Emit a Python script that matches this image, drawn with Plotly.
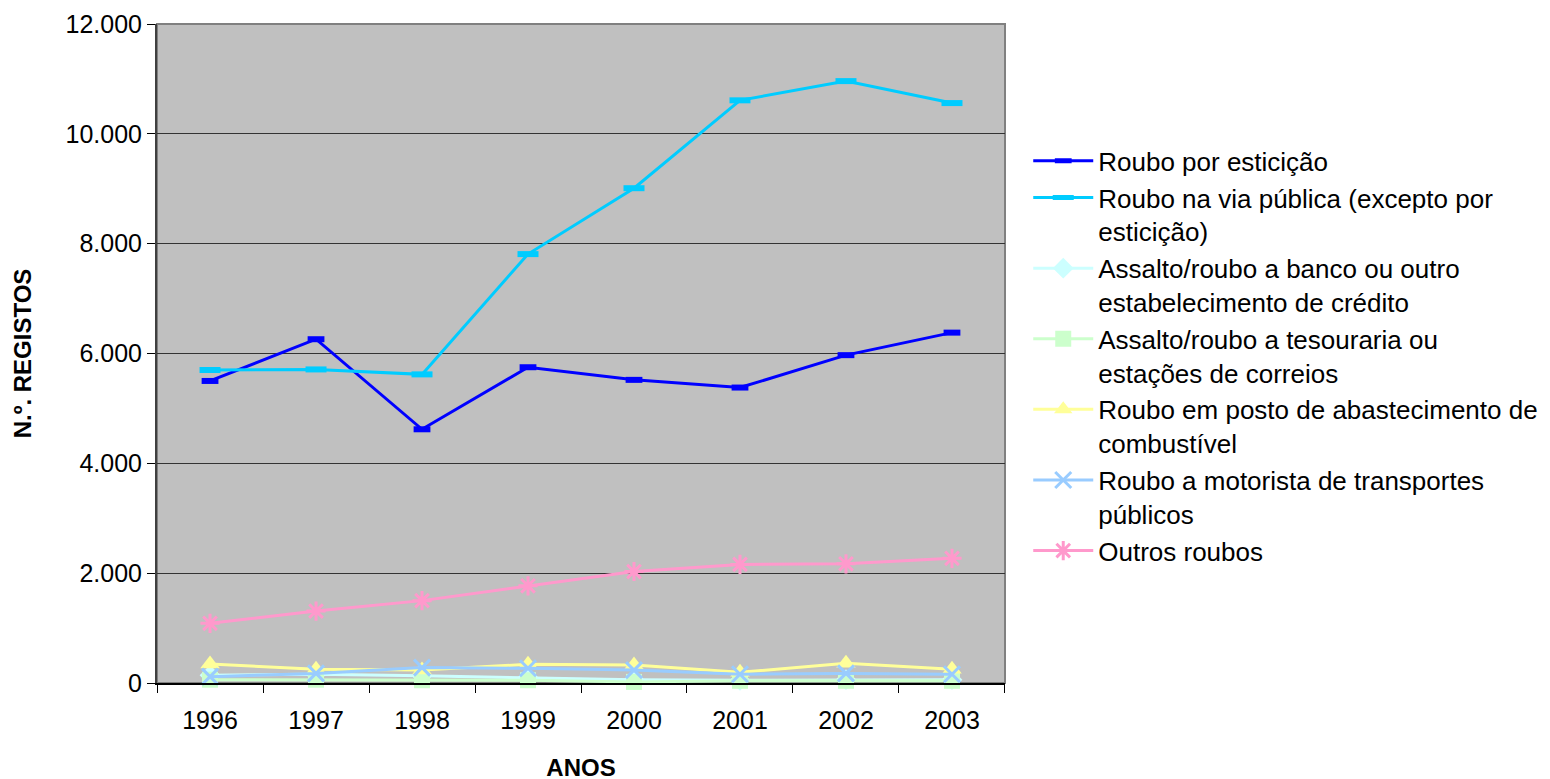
import plotly.graph_objects as go

years = ["1996", "1997", "1998", "1999", "2000", "2001", "2002", "2003"]

esticao = [5500, 6260, 4620, 5750, 5520, 5380, 5970, 6380]
via_publica = [5700, 5710, 5620, 7810, 9010, 10610, 10960, 10560]
banco = [140, 160, 130, 100, 60, 50, 60, 60]
tesouraria = [60, 60, 50, 50, 20, 40, 40, 40]
combustivel = [345, 250, 235, 340, 330, 195, 360, 250]
motorista = [115, 175, 280, 268, 235, 160, 175, 160]
outros = [1087, 1310, 1500, 1770, 2030, 2160, 2170, 2270]

names = [
    "Roubo por esticição",
    "Roubo na via pública (excepto por<br>esticição)",
    "Assalto/roubo a banco ou outro<br>estabelecimento de crédito",
    "Assalto/roubo a tesouraria ou<br>estações de correios",
    "Roubo em posto de abastecimento de<br>combustível",
    "Roubo a motorista de transportes<br>públicos",
    "Outros roubos",
]

series = [esticao, via_publica, banco, tesouraria, combustivel, motorista, outros]
colors = ["#0000FF", "#00CCFF", "#CCFFFF", "#CCFFCC", "#FFFF99", "#99CCFF", "#FF99CC"]
symbols = ["line-ew", "line-ew", "diamond", "square", "triangle-up", "x-thin", "asterisk"]
sizes = [12, 15, 16, 16, 17, 16, 16]

fig = go.Figure()
for vals, name, col, sym, sz in zip(series, names, colors, symbols, sizes):
    if sym in ("line-ew", "x-thin", "asterisk"):
        marker = dict(symbol=sym, size=sz, color=col, line=dict(color=col, width=6 if sym == "line-ew" else 3))
    else:
        marker = dict(symbol=sym, size=sz, color=col, line=dict(width=0))
    fig.add_trace(go.Scatter(
        x=years, y=vals, name=name, mode="lines+markers", cliponaxis=False,
        line=dict(color=col, width=3), marker=marker,
    ))

fig.add_shape(type="rect", xref="paper", yref="paper", x0=0, x1=1, y0=0, y1=1,
              line=dict(color="#808080", width=2), layer="below")

fig.update_layout(
    width=1550, height=779,
    margin=dict(l=149, r=553, t=16, b=104, autoexpand=False),
    paper_bgcolor="white",
    plot_bgcolor="#C0C0C0",
    separators=",.",
    font=dict(family="Liberation Sans, Arial, sans-serif", size=25, color="black"),
    showlegend=True,
    legend=dict(
        x=1.0274, y=0.828, xanchor="left", yanchor="top",
        font=dict(size=26), itemwidth=60, tracegroupgap=0,
        bgcolor="rgba(0,0,0,0)", valign="top",
    ),
    xaxis=dict(
        type="category", tickson="boundaries", ticks="outside", ticklen=8,
        tickcolor="black", showline=True, linecolor="black", linewidth=1.5,
        showgrid=False, tickfont=dict(size=25), ticklabelstandoff=14,
        automargin=False,
        title=dict(text="<b>ANOS</b>", font=dict(size=24), standoff=26),
    ),
    yaxis=dict(
        range=[0, 12000], tickvals=[0, 2000, 4000, 6000, 8000, 10000, 12000],
        tickformat=",.0f", ticks="outside", ticklen=8, tickcolor="black",
        showline=True, linecolor="#404040", linewidth=2,
        showgrid=True, gridcolor="#333333", gridwidth=1,
        zeroline=False, tickfont=dict(size=25), automargin=False,
        title=dict(text="<b>N.º. REGISTOS</b>", font=dict(size=24), standoff=27),
    ),
)

fig.write_html("out.html")
